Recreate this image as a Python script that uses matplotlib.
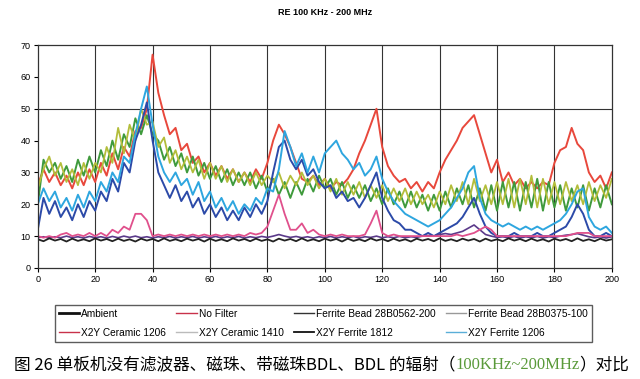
import numpy as np
import matplotlib
matplotlib.use("Agg")
import matplotlib.pyplot as plt
from matplotlib.lines import Line2D

plt.rcParams['font.family'] = ['Liberation Sans', 'DejaVu Sans']

freq = np.arange(0, 201, 2)

no_filter = [26, 31, 27, 30, 26, 29, 25, 30, 26, 31, 27, 33, 29, 36, 31, 38, 35, 43, 44, 50,
             67, 55, 48, 42, 44, 37, 39, 33, 35, 30, 33, 29, 32, 28, 31, 27, 30, 27, 31, 28,
             33, 40, 45, 42, 38, 33, 28, 27, 29, 26, 28, 25, 27, 26, 28, 31, 36, 40, 45, 50,
             38, 32, 29, 27, 28, 25, 27, 24, 27, 25, 30, 34, 37, 40, 44, 46, 48, 42, 36, 30,
             34, 27, 30, 26, 28, 25, 27, 25, 27, 26, 33, 37, 38, 44, 39, 37, 30, 27, 29, 25, 30]
bead_562 = [12, 22, 17, 21, 16, 19, 15, 20, 16, 21, 18, 24, 21, 28, 24, 33, 30, 40, 45, 52,
            40, 30, 26, 22, 26, 21, 24, 19, 22, 17, 20, 16, 19, 15, 18, 15, 19, 16, 20, 17,
            21, 30, 38, 40, 34, 31, 34, 29, 31, 27, 25, 26, 22, 24, 21, 22, 19, 22, 26, 30,
            22, 18, 15, 14, 12, 12, 11, 10, 11, 10, 11, 12, 13, 14, 16, 19, 22, 17, 13, 11,
            10, 10, 10, 11, 10, 10, 10, 11, 10, 10, 11, 12, 13, 16, 20, 17, 12, 10, 10, 11, 10]
bead_375 = [20, 34, 30, 33, 28, 32, 27, 34, 29, 35, 30, 37, 32, 40, 34, 42, 38, 47, 42, 48,
            42, 40, 34, 38, 32, 36, 30, 35, 29, 33, 28, 32, 27, 31, 26, 30, 26, 30, 25, 29,
            24, 28, 23, 27, 22, 27, 23, 28, 24, 29, 25, 28, 23, 27, 22, 26, 22, 26, 21, 25,
            20, 25, 20, 24, 19, 24, 19, 23, 18, 23, 18, 24, 19, 25, 20, 26, 19, 25, 18, 26,
            18, 27, 19, 27, 18, 27, 19, 28, 18, 27, 19, 26, 18, 25, 19, 26, 18, 25, 19, 26, 20]
ceramic_1206 = [10, 9.5, 10, 9.5, 10.5, 11, 10, 10.5, 10, 11, 10, 11, 10, 12, 11, 13, 12, 17, 17, 15,
                10, 10.5, 10, 10.5, 10, 10.5, 10, 10.5, 10, 10.5, 10, 10.5, 10, 10.5, 10, 10.5, 10, 11, 10.5, 11,
                13, 18, 23, 17, 12, 12, 14, 11, 12, 10.5, 10, 10.5, 10, 10.5, 10, 10, 10, 10.5, 14, 18,
                11, 10, 10.5, 10, 10, 10, 10, 10, 10, 10, 10, 10, 10, 10.5, 10, 10.5, 11, 12, 13, 12,
                10, 10, 10, 10, 10, 10, 10, 10, 10, 10, 10, 10, 10, 10.5, 11, 11, 11, 10, 10, 10, 10]
ceramic_1410 = [25, 31, 35, 29, 33, 27, 31, 26, 33, 28, 33, 30, 38, 33, 44, 36, 45, 40, 50, 45,
                46, 38, 41, 33, 37, 31, 35, 30, 34, 28, 33, 28, 32, 27, 31, 27, 30, 26, 30, 26,
                29, 27, 30, 25, 29, 26, 30, 26, 29, 25, 28, 24, 28, 23, 27, 23, 27, 22, 26, 22,
                26, 21, 25, 21, 25, 20, 24, 20, 23, 19, 24, 20, 26, 21, 27, 20, 28, 21, 26, 20,
                27, 20, 28, 19, 28, 20, 29, 19, 28, 20, 27, 20, 27, 21, 26, 20, 27, 21, 26, 22, 28]
ferrite_1812 = [9.5, 9.8, 9.4, 9.8, 9.5, 10, 9.5, 9.8, 9.4, 9.9, 9.5, 9.8, 9.4, 9.9, 9.5, 10, 9.6, 10, 9.5, 9.8,
                9.4, 9.8, 9.5, 9.9, 9.4, 9.8, 9.5, 9.9, 9.4, 9.8, 9.5, 9.9, 9.4, 9.8, 9.5, 9.9, 9.4, 9.8, 9.5, 9.9,
                9.6, 10, 10.5, 10, 9.6, 9.9, 9.5, 9.8, 9.4, 9.8, 9.5, 9.9, 9.4, 9.8, 9.5, 9.9, 9.4, 9.8, 9.6, 10,
                9.5, 9.8, 9.5, 9.9, 9.5, 9.8, 9.6, 10, 10.2, 10, 10.5, 10.8, 10.5, 11, 11.5, 12.5, 13.5, 12, 10.5, 10,
                9.6, 9.8, 9.5, 9.9, 9.4, 9.8, 9.5, 9.9, 9.4, 9.8, 9.6, 10, 10.3, 10.5, 10.8, 10.3, 9.8, 9.5, 9.8, 9.4, 9.8]
ferrite_1206 = [20, 25, 21, 24, 19, 22, 18, 23, 19, 24, 21, 27, 24, 30, 27, 35, 33, 42, 50, 57,
                45, 35, 30, 27, 30, 26, 28, 23, 27, 21, 24, 19, 22, 18, 21, 17, 20, 18, 22, 20,
                25, 24, 31, 43, 38, 32, 36, 30, 35, 30, 36, 38, 40, 36, 34, 31, 33, 29, 31, 35,
                28, 24, 21, 19, 17, 16, 15, 14, 13, 14, 15, 17, 19, 22, 25, 30, 32, 22, 17, 15,
                14, 13, 14, 13, 12, 13, 12, 13, 12, 13, 14, 15, 17, 20, 24, 25, 16, 13, 12, 13, 11]
ambient = [9, 8.4, 9.3, 8.6, 9.1, 8.3, 9.2, 8.5, 9.0, 8.4, 9.3, 8.6, 9.1, 8.4, 9.2, 8.5, 9.0, 8.3, 9.2, 8.6,
           9.1, 8.4, 9.3, 8.5, 9.0, 8.4, 9.2, 8.6, 9.1, 8.3, 9.2, 8.5, 9.0, 8.4, 9.3, 8.6, 9.1, 8.4, 9.2, 8.5,
           9.0, 8.3, 9.2, 8.6, 9.1, 8.4, 9.3, 8.5, 9.0, 8.4, 9.2, 8.6, 9.1, 8.3, 9.2, 8.5, 9.0, 8.4, 9.3, 8.6,
           9.1, 8.4, 9.2, 8.5, 9.0, 8.3, 9.2, 8.6, 9.1, 8.4, 9.3, 8.5, 9.0, 8.4, 9.2, 8.6, 9.1, 8.3, 9.2, 8.5,
           9.0, 8.4, 9.3, 8.6, 9.1, 8.4, 9.2, 8.5, 9.0, 8.3, 9.2, 8.6, 9.1, 8.4, 9.3, 8.5, 9.0, 8.4, 9.2, 8.6, 9.0]

series_names = ["Ambient", "No Filter", "Ferrite Bead 28B0562-200", "Ferrite Bead 28B0375-100",
                "X2Y Ceramic 1206", "X2Y Ceramic 1410", "X2Y Ferrite 1812", "X2Y Ferrite 1206"]
legend_colors = ["#111111", "#c8324a", "#333333", "#999999",
                 "#c8324a", "#bbbbbb", "#111111", "#5aaed8"]
legend_widths = [2.0, 1.0, 1.0, 1.0, 1.0, 1.0, 1.3, 1.0]

fig = plt.figure(figsize=(6.4, 3.79), dpi=100)
ax = fig.add_axes([0.059, 0.293, 0.897, 0.588])

# drawing order: bottom to top
ax.plot(freq, no_filter, color="#e8483c", lw=1.4)
ax.plot(freq, bead_375, color="#3f9a3c", lw=1.4)
ax.plot(freq, ceramic_1410, color="#b3bd3a", lw=1.3)
ax.plot(freq, bead_562, color="#2c4aa8", lw=1.4)
ax.plot(freq, ferrite_1206, color="#2ea6df", lw=1.4)
ax.plot(freq, ferrite_1812, color="#5b3a8a", lw=1.2)
ax.plot(freq, ceramic_1206, color="#e0508c", lw=1.3)
ax.plot(freq, ambient, color="#222222", lw=1.3)

ax.set_xlim(0, 200)
ax.set_ylim(0, 70)
ax.set_xticks(range(0, 201, 20))
ax.set_yticks(range(0, 71, 10))
for x in range(20, 200, 20):
    ax.axvline(x, color="#333333", lw=0.8, zorder=0)
ax.axhline(50, color="#333333", lw=0.8, zorder=0)
ax.tick_params(labelsize=6.5, length=3, width=0.8, direction="out", pad=2)
for s in ax.spines.values():
    s.set_linewidth(0.9)
    s.set_color("#333333")

fig.text(0.508, 0.966, "RE 100 KHz - 200 MHz", ha="center", va="center",
         fontsize=6.5, fontweight="bold")

# legend fills by column, so reorder to read row by row
order = [0, 4, 1, 5, 2, 6, 3, 7]
handles = [Line2D([0], [0], color=legend_colors[i], lw=legend_widths[i]) for i in order]
labels = [series_names[i] for i in order]
fig.legend(handles, labels, loc="center", ncol=4, mode="expand",
           bbox_to_anchor=(0.086, 0.095, 0.839, 0.103), fontsize=7.3,
           frameon=True, fancybox=False, edgecolor="#333333", handlelength=2.0,
           handletextpad=0.2, borderaxespad=0, columnspacing=0.4, labelspacing=0.9)

# caption, with the frequency range in green
cjk = ['Noto Sans CJK SC', 'DejaVu Sans']
fig.canvas.draw()
r = fig.canvas.get_renderer()
y_cap = 0.037
fs = 12.0
t1 = fig.text(0.022, y_cap, "图 26 单板机没有滤波器、磁珠、带磁珠BDL、BDL 的辐射（",
              family=cjk, fontsize=fs, va="center")
x1 = t1.get_window_extent(r).x1 / fig.bbox.width
t2 = fig.text(x1, y_cap, "100KHz~200MHz", family=['Liberation Serif', 'DejaVu Serif'],
              fontsize=fs, color="#5a9a3a", va="center")
x2 = t2.get_window_extent(r).x1 / fig.bbox.width
fig.text(x2, y_cap, "）对比", family=cjk, fontsize=fs, va="center")

fig.savefig("out.png", dpi=100)
